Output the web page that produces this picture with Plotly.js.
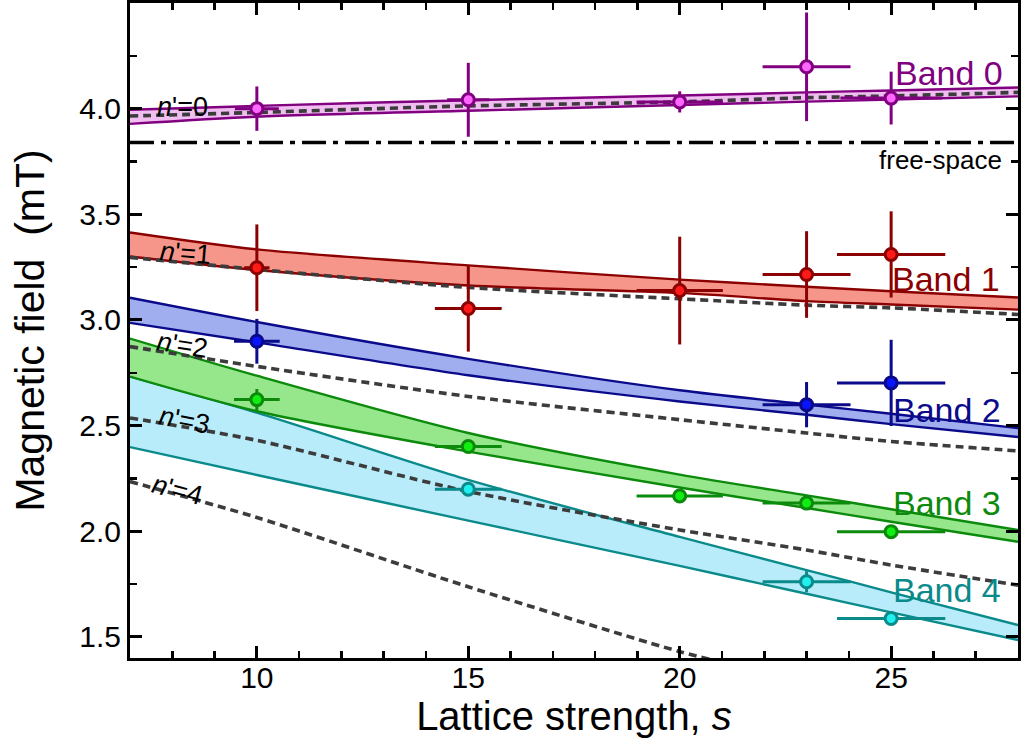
<!DOCTYPE html>
<html>
<head>
<meta charset="utf-8">
<script src="https://cdn.plot.ly/plotly-3.0.1.min.js"></script>
<style>html,body{margin:0;padding:0;background:#fff;}#plot{width:1024px;height:747px;}</style>
</head>
<body>
<div id="plot"></div>
<script>
// ---- theory curves (lattice strength grid) ----
const bandX = [7, 10, 15, 20, 23, 25, 28];
const band0Upper = [3.995, 4.013, 4.040, 4.062, 4.077, 4.086, 4.100];
const band0Lower = [3.928, 3.962, 3.990, 4.017, 4.033, 4.043, 4.058];
const band1Upper = [3.414, 3.334, 3.258, 3.191, 3.157, 3.136, 3.106];
const band1Lower = [3.300, 3.236, 3.163, 3.128, 3.089, 3.073, 3.049];
const band2Upper = [3.105, 2.990, 2.816, 2.667, 2.600, 2.556, 2.488];
const band2Lower = [2.986, 2.894, 2.738, 2.614, 2.551, 2.507, 2.446];
const band3Upper = [2.912, 2.736, 2.465, 2.268, 2.170, 2.104, 2.006];
const band3Lower = [2.732, 2.568, 2.377, 2.207, 2.110, 2.045, 1.950];
const band4Upper = [2.732, 2.561, 2.243, 1.973, 1.816, 1.711, 1.556];
const band4Lower = [2.398, 2.266, 2.050, 1.836, 1.704, 1.616, 1.485];
const n0Dash = [3.965, 3.982, 4.013, 4.032, 4.052, 4.060, 4.077];
const n1Dash = [3.296, 3.239, 3.154, 3.100, 3.070, 3.057, 3.026];
const n2Dash = [2.874, 2.780, 2.638, 2.528, 2.465, 2.425, 2.380];
const n3Dash = [2.536, 2.430, 2.188, 2.006, 1.911, 1.840, 1.745];
const n4X = [7, 10, 15, 20, 21];
const n4Dash = [2.235, 2.065, 1.737, 1.430, 1.380];
const freeSpaceX = [7, 28];
const freeSpace = [3.84, 3.84];

// ---- measurements ----
const b0X = [10, 15, 20, 23, 25];
const b0Y = [4.000, 4.042, 4.032, 4.198, 4.050];
const b0Ey = [0.105, 0.175, 0.05, 0.257, 0.125];
const b0Ex = [0.52, 0.50, 1.02, 1.04, 1.20];
const b1X = [10, 15, 20, 23, 25];
const b1Y = [3.247, 3.054, 3.139, 3.215, 3.310];
const b1Ey = [0.205, 0.204, 0.255, 0.205, 0.204];
const b1Ex = [0.30, 0.79, 1.02, 1.04, 1.28];
const b2X = [10, 23, 25];
const b2Y = [2.899, 2.599, 2.702];
const b2Ey = [0.106, 0.107, 0.204];
const b2Ex = [0.54, 1.04, 1.28];
const b3X = [10, 15, 20, 23, 25];
const b3Y = [2.623, 2.401, 2.167, 2.133, 1.998];
const b3Ey = [0.05, 0.025, 0.02, 0.02, 0.02];
const b3Ex = [0.54, 0.79, 1.02, 1.04, 1.28];
const b4X = [15, 23, 25];
const b4Y = [2.199, 1.761, 1.587];
const b4Ey = [0.03, 0.05, 0.02];
const b4Ex = [0.79, 1.04, 1.28];

const bandLabels = ['Band 0', 'Band 1', 'Band 2', 'Band 3', 'Band 4'];
const nLabels = ["<i>n</i>'=0", "<i>n</i>'=1", "<i>n</i>'=2", "<i>n</i>'=3", "<i>n</i>'=4"];
const freeLabel = 'free-space';

const FONT = 'Liberation Sans, Arial, sans-serif';
const styles = [
  {line: '#800080', fill: 'rgba(240,190,240,1)', mk: '#ff66ff'},
  {line: '#8b0000', fill: 'rgba(246,150,138,1)', mk: '#ff1a1a'},
  {line: '#0a0a8a', fill: 'rgba(160,174,240,1)', mk: '#0a14ff'},
  {line: '#0c8a0c', fill: 'rgba(150,230,140,1)', mk: '#11ee11'},
  {line: '#0a8a8a', fill: 'rgba(185,236,250,1)', mk: '#22f0f0'}
];
const uppers = [band0Upper, band1Upper, band2Upper, band3Upper, band4Upper];
const lowers = [band0Lower, band1Lower, band2Lower, band3Lower, band4Lower];
const dashes = [n0Dash, n1Dash, n2Dash, n3Dash];
const pts = [
  [b0X, b0Y, b0Ex, b0Ey], [b1X, b1Y, b1Ex, b1Ey], [b2X, b2Y, b2Ex, b2Ey],
  [b3X, b3Y, b3Ex, b3Ey], [b4X, b4Y, b4Ex, b4Ey]
];

const traces = [];
[4, 3, 2, 1, 0].forEach(i => {
  traces.push({x: bandX, y: lowers[i], mode: 'lines', line: {color: styles[i].line, width: 2.4, shape: 'spline', smoothing: 0.8}, hoverinfo: 'skip'});
  traces.push({x: bandX, y: uppers[i], mode: 'lines', fill: 'tonexty', fillcolor: styles[i].fill,
    line: {color: styles[i].line, width: 2.4, shape: 'spline', smoothing: 0.8}, hoverinfo: 'skip'});
});
const dashStyle = {color: '#3c3c3c', width: 3.6, dash: '8px,5px', shape: 'spline', smoothing: 0.8};
dashes.forEach(d => traces.push({x: bandX, y: d, mode: 'lines', line: dashStyle}));
traces.push({x: n4X, y: n4Dash, mode: 'lines', line: dashStyle});
traces.push({x: freeSpaceX, y: freeSpace, mode: 'lines', line: {color: '#000000', width: 3.4, dash: '24px,7px,5px,7px'}});
pts.forEach((p, i) => traces.push({
  x: p[0], y: p[1], mode: 'markers',
  error_x: {type: 'data', array: p[2], color: styles[i].line, thickness: 3, width: 0},
  error_y: {type: 'data', array: p[3], color: styles[i].line, thickness: 3, width: 0},
  marker: {size: 12, color: styles[i].mk, line: {color: styles[i].line, width: 3}}
}));

const bandLabelPos = [[26.37, 4.168], [26.3, 3.196], [26.32, 2.575], [26.32, 2.134], [26.32, 1.72]];
const nLabelPos = [[8.25, 4.007, 0], [8.32, 3.315, 5], [8.25, 2.883, 9], [8.28, 2.527, 11], [8.13, 2.196, 15]];
const annotations = [];
bandLabels.forEach((t, i) => annotations.push({x: bandLabelPos[i][0], y: bandLabelPos[i][1], text: t, showarrow: false,
  font: {family: FONT, size: 34, color: styles[i].line}}));
nLabels.forEach((t, i) => annotations.push({x: nLabelPos[i][0], y: nLabelPos[i][1], text: t, showarrow: false,
  textangle: nLabelPos[i][2], font: {family: FONT, size: 27, color: '#000'}}));
annotations.push({x: 26.16, y: 3.756, text: freeLabel, showarrow: false, font: {family: FONT, size: 26, color: '#000'}});

const axisCommon = {
  showline: true, linewidth: 3, linecolor: '#000', mirror: 'allticks',
  ticks: 'inside', ticklen: 12, tickwidth: 3, tickcolor: '#000',
  showgrid: false, zeroline: false, tickfont: {family: FONT, size: 30, color: '#000'}
};
const layout = {
  width: 1024, height: 747,
  margin: {l: 130, r: 6, t: 3, b: 89},
  paper_bgcolor: '#fff', plot_bgcolor: '#fff',
  showlegend: false,
  font: {family: FONT},
  xaxis: Object.assign({}, axisCommon, {
    range: [7, 28], tickvals: [10, 15, 20, 25], ticklabelstandoff: -9,
    minor: {dtick: 1, tick0: 0, ticks: 'inside', ticklen: 7, tickwidth: 2.5, tickcolor: '#000'},
    title: {text: 'Lattice strength, <i>s</i>', font: {family: FONT, size: 40, color: '#000'}, standoff: 0}
  }),
  yaxis: Object.assign({}, axisCommon, {
    range: [1.4, 4.5], tickvals: [1.5, 2.0, 2.5, 3.0, 3.5, 4.0], tickformat: '.1f',
    minor: {dtick: 0.25, tick0: 0, ticks: 'inside', ticklen: 7, tickwidth: 2.5, tickcolor: '#000'},
    title: {text: 'Magnetic field&nbsp; (mT)', font: {family: FONT, size: 41, color: '#000'}, standoff: 22}
  }),
  annotations: annotations
};
Plotly.newPlot('plot', traces, layout, {displayModeBar: false, staticPlot: true});
</script>
</body>
</html>
